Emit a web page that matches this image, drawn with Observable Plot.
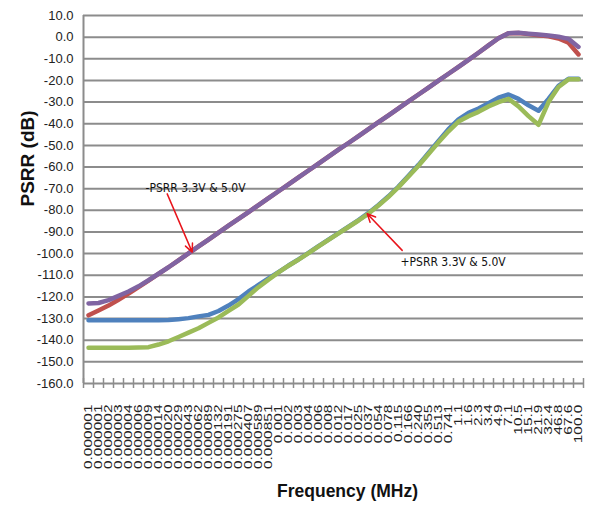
<!DOCTYPE html>
<html><head><meta charset="utf-8">
<script src="https://cdn.jsdelivr.net/npm/d3@7"></script>
<script src="https://cdn.jsdelivr.net/npm/@observablehq/plot@0.6"></script>
<style>
html,body{margin:0;padding:0;background:#fff;}
</style></head><body><div id="chart"></div>
<script>
// Frequency categories (MHz), one per category slot
const freqLabels = ["0.000001","0.000001","0.000002","0.000003","0.000004","0.000006","0.000009","0.000014","0.000020","0.000029",
  "0.000043","0.000062","0.000089","0.000132","0.000191","0.000275","0.000407","0.000589","0.000851","0.001",
  "0.002","0.003","0.004","0.006","0.008","0.012","0.017","0.025","0.037","0.054",
  "0.078","0.115","0.166","0.240","0.355","0.513","0.741","1.1","1.6","2.3",
  "3.4","4.9","7.1","10.5","15.1","21.9","32.4","46.8","67.6","100.0"];

// -PSRR 3.3V (purple)
const negPsrr33 = [-123.0,-122.8,-121.5,-119.5,-117.5,-115.1,-112.3,-109.3,-106.3,-103.1,
  -99.9,-96.7,-93.5,-90.3,-87.1,-84.0,-80.8,-77.6,-74.4,-71.2,
  -68.0,-64.8,-61.6,-58.4,-55.2,-52.0,-48.9,-45.7,-42.5,-39.3,
  -36.1,-32.9,-29.7,-26.5,-23.3,-20.1,-16.9,-13.7,-10.5,-7.2,
  -3.8,-0.5,1.8,2.0,1.6,1.2,0.8,0.2,-0.8,-4.5];
// -PSRR 5.0V (red)
const negPsrr50 = [-128.5,-126.3,-124.0,-121.3,-118.5,-115.5,-112.5,-109.4,-106.3,-103.1,
  -99.9,-96.7,-93.5,-90.3,-87.1,-84.0,-80.8,-77.6,-74.4,-71.2,
  -68.0,-64.8,-61.6,-58.4,-55.2,-52.0,-48.9,-45.7,-42.5,-39.3,
  -36.1,-32.9,-29.7,-26.5,-23.3,-20.1,-16.9,-13.7,-10.5,-7.2,
  -3.8,-0.5,1.8,1.9,1.4,0.9,0.4,-0.6,-2.6,-8.0];
// +PSRR 3.3V (blue)
const posPsrr33 = [-130.8,-130.8,-130.8,-130.8,-130.8,-130.8,-130.8,-130.8,-130.7,-130.3,
  -129.8,-129.0,-128.3,-126.5,-124.0,-121.0,-117.5,-114.5,-111.5,-108.5,
  -105.5,-102.7,-99.7,-96.5,-93.5,-90.5,-87.5,-84.5,-81.2,-77.5,
  -73.5,-69.0,-64.0,-59.0,-53.5,-48.0,-42.5,-38.0,-35.0,-33.0,
  -30.5,-28.0,-26.5,-28.5,-31.5,-34.0,-28.5,-22.5,-19.2,-19.2];
// +PSRR 5.0V (green)
const posPsrr50 = [-143.5,-143.5,-143.5,-143.5,-143.5,-143.4,-143.2,-142.0,-140.5,-138.5,
  -136.5,-134.5,-132.0,-129.5,-126.5,-123.5,-119.5,-115.5,-112.0,-108.7,
  -105.6,-102.8,-99.8,-96.7,-93.7,-90.7,-87.7,-84.7,-81.5,-77.8,
  -73.8,-69.3,-64.4,-59.4,-54.0,-48.6,-43.5,-39.0,-36.5,-34.5,
  -32.0,-30.0,-28.5,-32.0,-36.5,-40.5,-30.0,-23.0,-19.5,-19.5];

const yTicks = [10,0,-10,-20,-30,-40,-50,-60,-70,-80,-90,-100,-110,-120,-130,-140,-150,-160];

const annotationTexts = [
  {label: "-PSRR 3.3V & 5.0V", x: 5.7, y: -69.9},
  {label: "+PSRR 3.3V & 5.0V", x: 31.2, y: -104.0}
];
const annotationArrows = [
  {x1: 7.87, y1: -72.4, x2: 10.37, y2: -99.3},
  {x1: 31.37, y1: -98.5, x2: 27.87, y2: -81.6}
];

const idx = freqLabels.map((d, i) => i);
const boundaries = freqLabels.map((d, i) => i - 0.5).concat([freqLabels.length - 0.5]);
const gridColor = "#8c8c8c";

const series = [
  {values: posPsrr33, color: "#4F81BD"},
  {values: negPsrr50, color: "#C0504D"},
  {values: posPsrr50, color: "#9BBB59"},
  {values: negPsrr33, color: "#8064A2"}
];

const chart = Plot.plot({
  width: 596, height: 514,
  marginLeft: 83, marginRight: 13, marginTop: 15, marginBottom: 131,
  style: {fontFamily: "'Liberation Sans', Arial, sans-serif", background: "#fff", overflow: "visible"},
  x: {type: "linear", domain: [-0.5, freqLabels.length - 0.5], axis: null},
  y: {domain: [-160, 10], axis: null},
  marks: [
    Plot.ruleY(yTicks, {stroke: gridColor, strokeWidth: 2}),
    Plot.ruleX([-0.5], {stroke: gridColor, strokeWidth: 2}),
    Plot.ruleX(boundaries, {x: d => d, y1: -160, y2: -160, insetTop: -5, insetBottom: -5, stroke: gridColor, strokeWidth: 1.5}),
    Plot.axisY(yTicks, {tickFormat: d => d.toFixed(1), tickSize: 0, tickPadding: 10, fontSize: 13, fill: "#222", label: null}),
    Plot.axisX(idx, {tickFormat: i => freqLabels[i], tickRotate: -90, tickSize: 0, tickPadding: 21, fontSize: 10, fill: "#222", label: null}),
    ...series.map(s => Plot.line(s.values, {x: (d, i) => i, y: d => d, stroke: s.color, strokeWidth: 4.5, strokeLinejoin: "round", strokeLinecap: "round"})),
    Plot.arrow(annotationArrows, {x1: "x1", y1: "y1", x2: "x2", y2: "y2", stroke: "#e8141b", strokeWidth: 1.5, headLength: 9, headAngle: 50}),
    Plot.text(annotationTexts, {x: "x", y: "y", text: "label", textAnchor: "start", fontSize: 12, fill: "#111", fontFamily: "'Liberation Sans Narrow', 'DejaVu Sans Condensed', Arial, sans-serif"}),
    Plot.text(["PSRR (dB)"], {frameAnchor: "left", dx: -56, dy: 7, rotate: -90, fontSize: 19, fontWeight: "bold", fill: "#111"}),
    Plot.text(["Frequency (MHz)"], {frameAnchor: "bottom", dx: 14, dy: 113, fontSize: 17.5, fontWeight: "bold", fill: "#111"})
  ]
});

chart.querySelectorAll('g[aria-label="x-axis tick label"] text').forEach(t => {
  const tr = t.getAttribute("transform") || "";
  t.setAttribute("transform", tr + " scale(1.55,1)");
});
document.getElementById("chart").appendChild(chart);
</script>
</body></html>
